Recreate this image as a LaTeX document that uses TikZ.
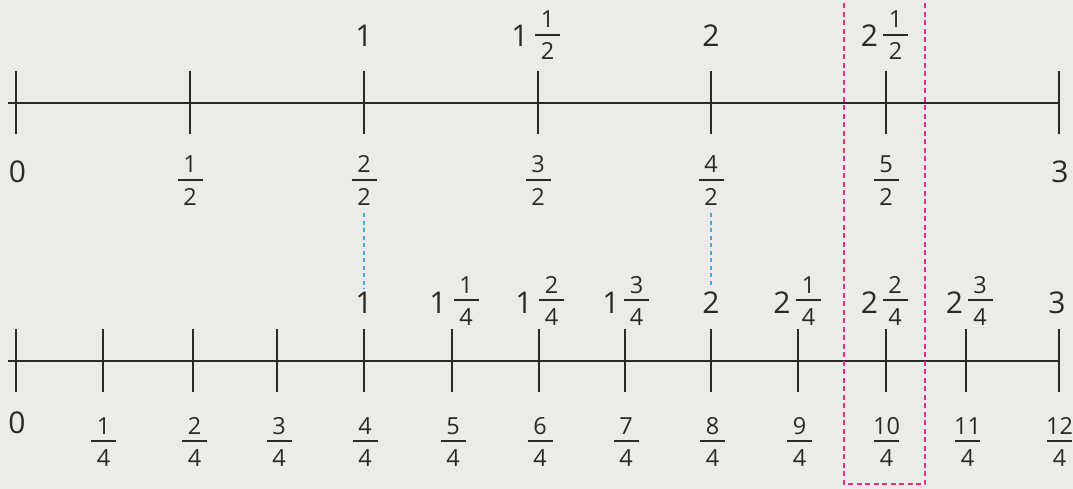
\documentclass[tikz,border=0pt]{standalone}
\usepackage{fontspec}
\setmainfont{Open Sans}
\definecolor{bg}{HTML}{EDEBE8}
\definecolor{ink}{HTML}{2A2A2A}
\definecolor{pinkline}{HTML}{EE2A8A}
\definecolor{skyline}{HTML}{3AAEE0}
\tikzset{
  numline/.style={line width=1.5pt, draw=ink},
  tickline/.style={line width=1.5pt, draw=ink},
  barline/.style={line width=1.7pt, draw=ink},
  bignum/.style={font=\fontsize{30}{30}\selectfont, text=ink, inner sep=0pt, anchor=base},
  smallnum/.style={font=\fontsize{23.5}{23.5}\selectfont, text=ink, inner sep=0pt, anchor=base},
  bluedash/.style={draw=skyline, line width=1.3pt, dash pattern=on 4pt off 3.5pt},
  pinkdash/.style={draw=pinkline, line width=1.6pt, dash pattern=on 5pt off 3.5pt},
}
% #1 name, #2 x, #3 bar y, #4 numerator, #5 denominator
\newcommand{\fracat}[5]{%
  \node[smallnum] (#1n) at (#2,#3-7) {#4};
  \node[smallnum] (#1d) at (#2,#3+25) {#5};
  \draw[barline] (#2-12.5,#3) -- (#2+12.5,#3);
}
\begin{document}
\begin{tikzpicture}[x=1pt,y=-1pt]
\fill[bg] (0,0) rectangle (1073,489);
\useasboundingbox (0,0) rectangle (1073,489);

% ---------- top number line ----------
\draw[numline] (8,103) -- (1059,103);
\foreach \x in {16,190,364,538,711,886,1059}
  \draw[tickline] (\x,71) -- (\x,134);

\node[bignum] (tA1) at (364,47) {1};
\node[bignum] (tA2) at (711,47) {2};
\node[bignum] (tAm1) at (520,47) {1};
\fracat{tAf1}{547.5}{35}{1}{2}
\node[bignum] (tAm2) at (869.5,47) {2};
\fracat{tAf2}{895.5}{35}{1}{2}

\node[bignum] (tB0) at (17.5,183) {0};
\node[bignum] (tB3) at (1060,183) {3};
\fracat{tf1}{190}{180}{1}{2}
\fracat{tf2}{364}{180}{2}{2}
\fracat{tf3}{538}{180}{3}{2}
\fracat{tf4}{711}{180}{4}{2}
\fracat{tf5}{886}{180}{5}{2}

% ---------- bottom number line ----------
\draw[numline] (8,361) -- (1059,361);
\foreach \x in {16,103,193,277,364,452,539,625,711,798,886,966,1059}
  \draw[tickline] (\x,329) -- (\x,392);

\node[bignum] (bA1) at (364,313) {1};
\node[bignum] (bA2) at (711,313) {2};
\node[bignum] (bA3) at (1057,313) {3};
\node[bignum] (bm1) at (438,313) {1};
\fracat{bAf1}{466}{300}{1}{4}
\node[bignum] (bm2) at (524,313) {1};
\fracat{bAf2}{551.5}{300}{2}{4}
\node[bignum] (bm3) at (611,313) {1};
\fracat{bAf3}{636.5}{300}{3}{4}
\node[bignum] (bm4) at (782,313) {2};
\fracat{bAf4}{808.5}{300}{1}{4}
\node[bignum] (bm5) at (869.5,313) {2};
\fracat{bAf5}{895}{300}{2}{4}
\node[bignum] (bm6) at (954.5,313) {2};
\fracat{bAf6}{980}{300}{3}{4}

\node[bignum] (bB0) at (17,433) {0};
\fracat{bf1}{103.5}{441}{1}{4}
\fracat{bf2}{194.5}{441}{2}{4}
\fracat{bf3}{279}{441}{3}{4}
\fracat{bf4}{365}{441}{4}{4}
\fracat{bf5}{453}{441}{5}{4}
\fracat{bf6}{540}{441}{6}{4}
\fracat{bf7}{626}{441}{7}{4}
\fracat{bf8}{712.5}{441}{8}{4}
\fracat{bf9}{799.5}{441}{9}{4}
\fracat{bf10}{886.5}{441}{10}{4}
\fracat{bf11}{967.5}{441}{11}{4}
\fracat{bf12}{1059.5}{441}{12}{4}

% ---------- connectors ----------
\draw[bluedash, shorten <=8pt, shorten >=3pt] (tf2d.south) -- (bA1.north);
\draw[bluedash, shorten <=8pt, shorten >=3pt] (tf4d.south) -- (bA2.north);

% ---------- highlight box ----------
\coordinate (hTL) at (844,-5);
\coordinate (hBL) at (844,484);
\coordinate (hBR) at (925,484);
\coordinate (hTR) at (925,-5);
\draw[pinkdash] (hTL) -- (hBL) -- (hBR) -- (hTR);
\end{tikzpicture}
\end{document}
